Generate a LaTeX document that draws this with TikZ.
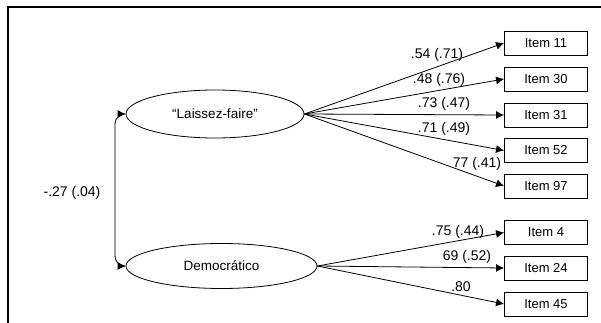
\documentclass[tikz,border=0pt]{standalone}
\usepackage{fontspec}
\setmainfont{Liberation Sans}
\usetikzlibrary{arrows.meta,shapes.geometric}

\begin{document}
\begin{tikzpicture}[x=1pt, y=-1pt,
		item/.style={draw, line width=0.9pt, minimum width=83pt, minimum height=24pt, inner sep=0pt, font=\fontsize{13}{15}\selectfont},
		factor/.style={draw, ellipse, line width=0.8pt, inner sep=0pt, font=\fontsize{13.5}{16}\selectfont},
		load/.style={line width=0.8pt, -{Latex[length=8pt,width=8pt]}},
		coef/.style={inner sep=0pt, font=\fontsize{14}{16}\selectfont}]
		\useasboundingbox (0,0) rectangle (601,323);
		\draw[line width=2pt] (8,323) -- (8,7) -- (601,7);
		% latent factors
		\node[factor, minimum width=178pt, minimum height=48pt] (L) at (215,114) {“Laissez-faire”};
		\node[factor, minimum width=191pt, minimum height=45pt] (D) at (221.5,266) {Democrático};
		% observed items
		\foreach \n/\y in {11/43, 30/79, 31/115, 52/150.5, 97/186, 4/232.5, 24/268, 45/304}
			\node[item] (I\n) at (546,\y) {Item \n};
		% loadings
		\foreach \f/\n/\lx/\ly/\t in {L/11/437/55/.54 (.71), L/30/439/80/.48 (.76), L/31/444/104/.73 (.47), L/52/444/129/.71 (.49), L/97/477/164/77 (.41), D/4/458/232/.75 (.44), D/24/467/257/69 (.52), D/45/461/287/.80}{
			\draw[load] (\f.east) -- (I\n.west);
			\node[coef] (c\n) at (\lx,\ly) {\t};
		}
		% correlation
		\coordinate (C) at (115,190);
		\draw[line width=0.8pt, {Latex[length=8pt,width=8pt]}-{Latex[length=8pt,width=8pt]}, rounded corners=10pt] (L.west) -| (C) |- (D.west);
		\node[coef] (r) at (72,193) {-.27 (.04)};
	\end{tikzpicture}
\end{document}
